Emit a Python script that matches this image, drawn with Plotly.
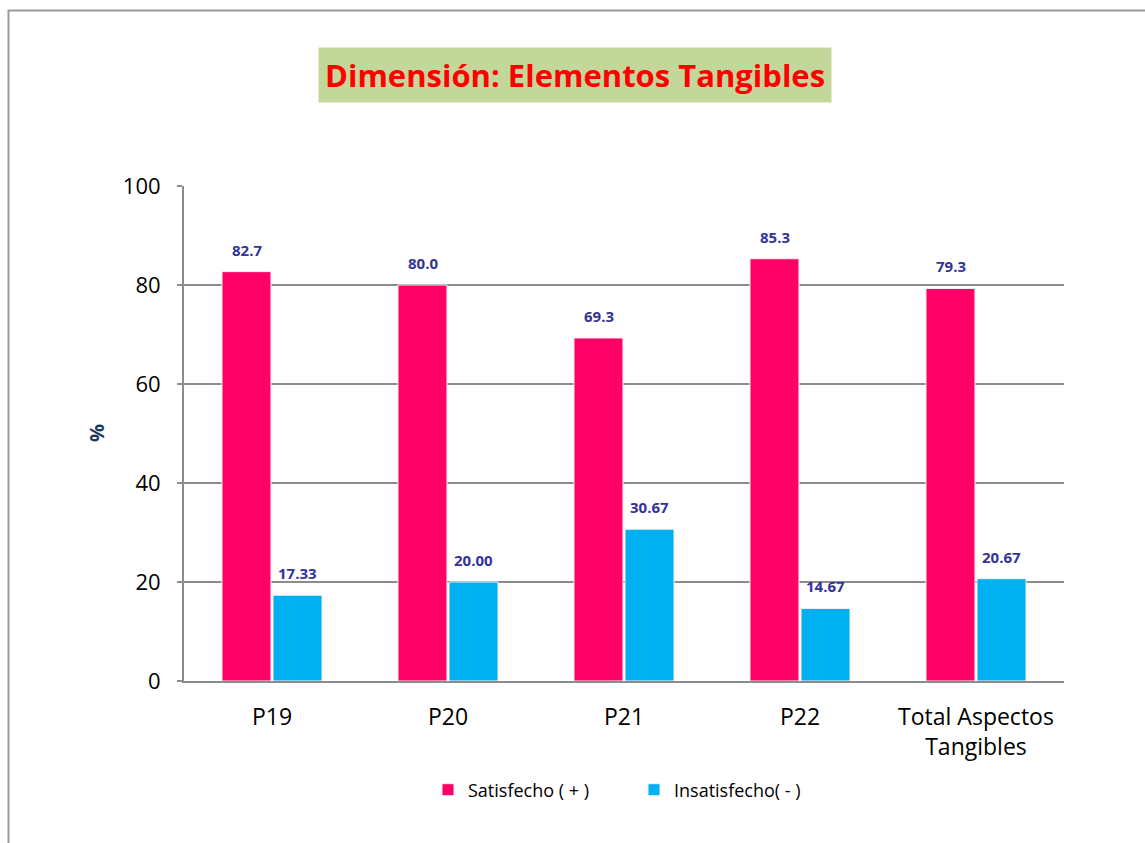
import plotly.graph_objects as go

categories = ["P19", "P20", "P21", "P22", "Total Aspectos<br>Tangibles"]
satisfecho = [82.7, 80.0, 69.3, 85.3, 79.3]
insatisfecho = [17.33, 20.00, 30.67, 14.67, 20.67]
sat_labels = ["82.7", "80.0", "69.3", "85.3", "79.3"]
insat_labels = ["17.33", "20.00", "30.67", "14.67", "20.67"]

FONT = "Open Sans"
L, R, T, B = 184, 81, 186, 162
W, H = 1145, 843
PW, PH = W - L - R, H - T - B

def px(x):
    return (x - L) / PW

def py(y):
    return (H - B - y) / PH

fig = go.Figure()
fig.add_trace(go.Bar(x=categories, y=satisfecho, name="Satisfecho ( + )",
                     marker=dict(color="#FF0066", line=dict(color="#F4F4F4", width=1))))
fig.add_trace(go.Bar(x=categories, y=insatisfecho, name="Insatisfecho( - )",
                     marker=dict(color="#00B0F0", line=dict(color="#F4F4F4", width=1))))

annotations = []
for c, v, t in zip(categories, satisfecho, sat_labels):
    annotations.append(dict(x=c, y=v, text=t, xref="x", yref="y", showarrow=False,
                            xshift=-25.5, yshift=10, yanchor="bottom",
                            font=dict(family=FONT, size=15, color="#333399", weight="bold")))
for c, v, t in zip(categories, insatisfecho, insat_labels):
    annotations.append(dict(x=c, y=v, text=t, xref="x", yref="y", showarrow=False,
                            xshift=25.5, yshift=10, yanchor="bottom",
                            font=dict(family=FONT, size=15, color="#333399", weight="bold")))

annotations.append(dict(x=px(575), y=py(74.5), xref="paper", yref="paper", showarrow=False,
                        text="Dimensión: Elementos Tangibles", bgcolor="#C4D79B",
                        borderpad=6, xanchor="center", yanchor="middle",
                        font=dict(family=FONT, size=31, color="#FF0000", weight="bold")))
annotations.append(dict(x=px(96), y=py(433), xref="paper", yref="paper", showarrow=False,
                        text="%", textangle=-90, xanchor="center", yanchor="middle",
                        font=dict(family=FONT, size=20, color="#17375E", weight="bold")))

shapes = [dict(type="rect", xref="paper", yref="paper",
               x0=px(8.5), x1=px(1160), y0=py(860), y1=py(10.5),
               line=dict(color="#9A9A9A", width=2), layer="below")]

fig.update_layout(
    width=W, height=H,
    margin=dict(l=L, r=R, t=T, b=B, autoexpand=False),
    paper_bgcolor="white", plot_bgcolor="white",
    barmode="group", bargap=0.42, bargroupgap=0.04,
    font=dict(family=FONT, size=20, color="black"),
    showlegend=True,
    legend=dict(orientation="h", x=px(428), xanchor="left", y=py(790), yanchor="middle",
                font=dict(family=FONT, size=18, color="black"), entrywidth=161,
                itemwidth=30, traceorder="normal"),
    annotations=annotations, shapes=shapes,
)
fig.update_yaxes(range=[0, 100], dtick=20, showgrid=True, gridcolor="#8C8C8C", gridwidth=2,
                 showline=True, linecolor="#8C8C8C", linewidth=2, ticks="outside",
                 ticklen=5, tickcolor="#8C8C8C", tickwidth=2, zeroline=False,
                 ticklabelstandoff=12,
                 tickfont=dict(family=FONT, size=22, color="black"))
fig.update_xaxes(showline=True, linecolor="#8C8C8C", linewidth=2, ticks="",
                 ticklabelstandoff=14,
                 tickfont=dict(family=FONT, size=23, color="black"))

fig.write_html("out.html")
